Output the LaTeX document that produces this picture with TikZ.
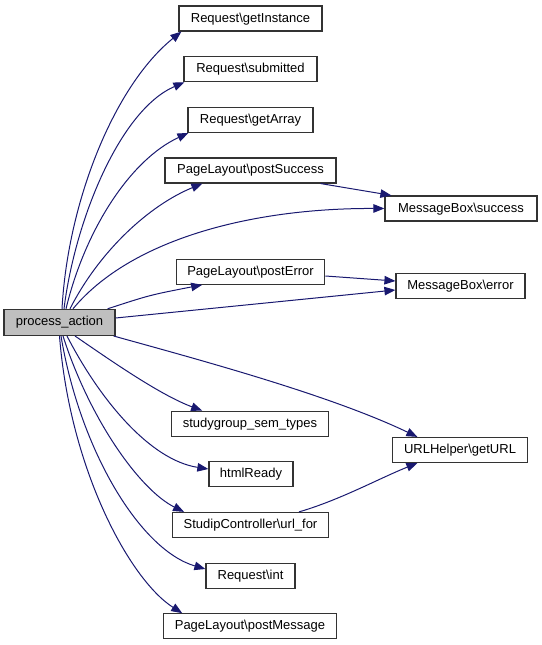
\documentclass[tikz,border=0pt]{standalone}
\usepackage{fontspec}
\setmainfont{Liberation Sans}
\usetikzlibrary{arrows.meta}
\definecolor{edgeblue}{HTML}{191970}
\definecolor{boxgray}{HTML}{BFBFBF}
\tikzset{
  fn/.style={draw=black!80, line width=1.2pt, fill=white, inner xsep=11pt, inner ysep=0pt,
    minimum height=25pt, font=\fontsize{13}{15}\selectfont, text height=9.6pt, text depth=2.6pt},
  cur/.style={fn, fill=boxgray, minimum height=26pt},
  call/.style={draw=edgeblue, line width=1pt, -{Triangle[length=11pt,width=8.5pt]}, fill=none}
}
\begin{document}
\begin{tikzpicture}[x=1pt,y=-1pt]
\useasboundingbox (0,0) rectangle (541,645);
% nodes
\node[cur, minimum width=111pt] (pa) at (59.5,322.4) {process\_action};
\node[fn, minimum width=143pt] (gi) at (250.5,18.5) {Request\textbackslash getInstance};
\node[fn, minimum width=133pt] (sub) at (250.5,69.15) {Request\textbackslash submitted};
\node[fn, minimum width=125pt] (ga) at (250.5,119.8) {Request\textbackslash getArray};
\node[fn, minimum width=171pt] (ps) at (250.5,170.45) {PageLayout\textbackslash postSuccess};
\node[fn, minimum width=148pt] (pe) at (250.5,271.75) {PageLayout\textbackslash postError};
\node[fn, minimum width=152pt] (ms) at (461,208.5) {MessageBox\textbackslash success};
\node[fn, minimum width=129pt] (me) at (460.5,285.7) {MessageBox\textbackslash error};
\node[fn, minimum width=156pt] (sst) at (250,423.7) {studygroup\_sem\_types};
\node[fn, minimum width=135pt] (url) at (460,450) {URLHelper\textbackslash getURL};
\node[fn, minimum width=84pt] (hr) at (251,474.35) {htmlReady};
\node[fn, minimum width=155pt] (uf) at (250.5,525) {StudipController\textbackslash url\_for};
\node[fn, minimum width=89pt] (ri) at (250.5,575.65) {Request\textbackslash int};
\node[fn, minimum width=172pt] (pm) at (250,626.3) {PageLayout\textbackslash postMessage};
% edges
\draw[call] ([xshift=2.5pt]pa.north) .. controls (68,200) and (115,85) .. ([xshift=3pt]gi.south west);
\draw[call] ([xshift=4.5pt]pa.north) .. controls (75,220) and (120,110) .. ([xshift=1pt]sub.south west);
\draw[call] ([xshift=6.5pt]pa.north) .. controls (85,230) and (130,160) .. ([xshift=1pt]ga.south west);
\draw[call] ([xshift=10.5pt]pa.north) .. controls (100,250) and (150,205) .. ([xshift=38pt]ps.south west);
\draw[call] ([xshift=13.5pt]pa.north) .. controls (130,240) and (250,208) .. (ms.west);
\draw[call] ([xshift=-16pt]ps.south east) -- ([xshift=7pt]ms.north west);
\draw[call] ([xshift=-8pt]pa.north east) .. controls (150,295) .. ([xshift=26.5pt]pe.south west);
\draw[call] ([yshift=-4.25pt]pe.east) -- ([yshift=4.7pt]me.west);
\draw[call] ([yshift=4.4pt]pa.east) -- ([yshift=-4.3pt]me.west);
\draw[call] ([xshift=-2pt]pa.south east) .. controls (200,360) and (330,395) .. ([xshift=25.5pt]url.north west);
\draw[call] ([xshift=15.5pt]pa.south) .. controls (110,360) and (160,395) .. ([xshift=31pt]sst.north west);
\draw[call] ([xshift=7.5pt]pa.south) .. controls (100,400) and (150,460) .. ([yshift=5.35pt]hr.west);
\draw[call] ([xshift=3.5pt]pa.south) .. controls (90,420) and (140,490) .. ([xshift=12pt]uf.north west);
\draw[call] ([xshift=-30pt]uf.north east) .. controls (340,500) and (380,478) .. ([xshift=25.5pt]url.south west);
\draw[call] ([xshift=1.5pt]pa.south) .. controls (80,450) and (140,550) .. ([yshift=6.65pt]ri.west);
\draw[call] (pa.south) .. controls (70,470) and (130,580) .. ([xshift=19pt]pm.north west);
\end{tikzpicture}
\end{document}
